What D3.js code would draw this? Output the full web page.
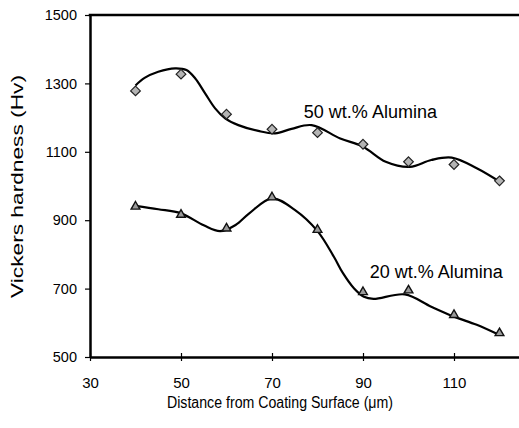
<!DOCTYPE html>
<html>
<head>
<meta charset="utf-8">
<script src="https://cdn.jsdelivr.net/npm/d3@7"></script>
<style>
  body { margin: 0; background: #fff; }
  svg { display: block; font-family: "Liberation Sans", Arial, sans-serif; }
</style>
</head>
<body>
<div id="chart"></div>
<script>
// measured points
const distance = [40, 50, 60, 70, 80, 90, 100, 110, 120];
const alumina50 = [1278, 1327, 1210, 1166, 1156, 1122, 1071, 1063, 1015];
const alumina20 = [937, 913, 873, 964, 869, 687, 692, 620, 567];

// fitted trend curves
const curve50X = [40, 42, 45, 48.7, 51.2, 53.1, 55.3, 57.5, 59.7, 62.6, 67, 70.7, 74.3, 78.7, 85, 90, 95, 100.3, 105, 109.5, 115, 120];
const curve50Y = [1294, 1316, 1334, 1344, 1339, 1315, 1271, 1227, 1198, 1178, 1161, 1154, 1167, 1178, 1139, 1115, 1071, 1056, 1076, 1083, 1052, 1013];
const curve20X = [40, 45, 50, 55, 58.6, 62, 65, 70, 75, 80, 83.6, 85.6, 88, 90.2, 92.3, 99.2, 105, 110, 115, 120];
const curve20Y = [942, 932, 920, 885, 868, 886, 920, 964, 930, 868, 793, 745, 701, 676, 670, 683, 647, 618, 594, 564];

const xTicks = [30, 50, 70, 90, 110];
const yTicks = [500, 700, 900, 1100, 1300, 1500];

const makePlot = () => {
  const size = { width: 519, height: 428 };
  const margin = { left: 90, top: 15, bottom: 71, right: 0 };
  const font = "'Liberation Sans', Arial, sans-serif";

  const svg = d3.select("#chart").append("svg")
    .attr("width", size.width)
    .attr("height", size.height);

  const x = d3.scaleLinear()
    .domain([30, 30 + (size.width - margin.left) / 4.55])
    .range([margin.left, size.width - margin.right]);
  const y = d3.scaleLinear()
    .domain([500, 1500])
    .range([size.height - margin.bottom, margin.top]);

  // curves
  const line = d3.line()
    .x((d) => x(d[0]))
    .y((d) => y(d[1]))
    .curve(d3.curveCatmullRom.alpha(0.5));

  [[curve50X, curve50Y], [curve20X, curve20Y]].forEach(([xs, ys]) => {
    svg.append("path")
      .attr("d", line(xs.map((v, i) => [v, ys[i]])))
      .attr("fill", "none")
      .attr("stroke", "#000")
      .attr("stroke-width", 2.2);
  });

  // markers
  svg.append("g").selectAll("path")
    .data(distance.map((d, i) => [d, alumina50[i]]))
    .join("path")
    .attr("transform", (d) => `translate(${x(d[0])},${y(d[1])})`)
    .attr("d", d3.symbol(d3.symbolDiamond2, 60))
    .attr("fill", "#b4b4b4")
    .attr("stroke", "#222")
    .attr("stroke-width", 1.2);

  svg.append("g").selectAll("path")
    .data(distance.map((d, i) => [d, alumina20[i]]))
    .join("path")
    .attr("transform", (d) => `translate(${x(d[0])},${y(d[1]) - 1})`)
    .attr("d", d3.symbol(d3.symbolTriangle2, 55))
    .attr("fill", "#9a9a9a")
    .attr("stroke", "#111")
    .attr("stroke-width", 1.4);

  // axes
  const xAxis = svg.append("g")
    .attr("transform", `translate(0,${y(500)})`)
    .attr("font-family", font)
    .call(d3.axisBottom(x).tickValues(xTicks).tickFormat(d3.format("d"))
      .tickSize(4).tickSizeOuter(0).tickPadding(16));
  xAxis.select(".domain").attr("stroke-width", 2.5);
  xAxis.selectAll(".tick line").attr("y1", -4).attr("stroke-width", 1.2);
  xAxis.selectAll(".tick text").attr("font-size", 15).attr("fill", "#000");

  const yAxis = svg.append("g")
    .attr("transform", `translate(${margin.left},0)`)
    .attr("font-family", font)
    .call(d3.axisLeft(y).tickValues(yTicks).tickFormat(d3.format("d"))
      .tickSize(5).tickSizeOuter(0).tickPadding(8));
  yAxis.select(".domain").attr("stroke-width", 2.5);
  yAxis.selectAll(".tick line").attr("stroke-width", 1.2);
  yAxis.selectAll(".tick text").attr("font-size", 14.5).attr("fill", "#000");

  // top border
  svg.append("line")
    .attr("x1", margin.left - 1.25).attr("x2", size.width)
    .attr("y1", y(1500)).attr("y2", y(1500))
    .attr("stroke", "#000").attr("stroke-width", 2.5);

  // labels
  svg.append("text")
    .attr("x", x(77)).attr("y", 118)
    .style("font-size", "18px")
    .text("50 wt.% Alumina");
  svg.append("text")
    .attr("x", x(91.5)).attr("y", 278)
    .style("font-size", "18px")
    .text("20 wt.% Alumina");

  svg.append("text")
    .attr("transform", "translate(23,186.5) rotate(-90)")
    .attr("text-anchor", "middle")
    .style("font-size", "17px")
    .attr("textLength", 223)
    .attr("lengthAdjust", "spacingAndGlyphs")
    .text("Vickers hardness (Hv)");

  svg.append("text")
    .attr("x", 280).attr("y", 408)
    .attr("text-anchor", "middle")
    .style("font-size", "16px")
    .attr("textLength", 226)
    .attr("lengthAdjust", "spacingAndGlyphs")
    .text("Distance from Coating Surface (\u03bcm)");
};

makePlot();
</script>
</body>
</html>
